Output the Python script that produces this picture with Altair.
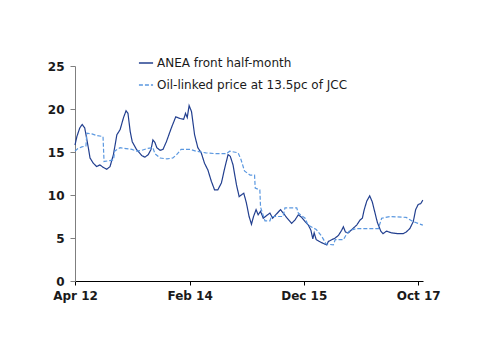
import altair as alt
import pandas as pd

series_names = ["ANEA front half-month", "Oil-linked price at 13.5pc of JCC"]

anea_dates = [
    "2012-04-01", "2012-04-12", "2012-04-29", "2012-05-13", "2012-05-28", "2012-06-18",
    "2012-06-28", "2012-07-17", "2012-08-06", "2012-08-25", "2012-09-14", "2012-10-04",
    "2012-10-23", "2012-11-12", "2012-12-02", "2012-12-21", "2013-01-10", "2013-01-25",
    "2013-02-05", "2013-02-18", "2013-03-02", "2013-03-27", "2013-04-26", "2013-05-15",
    "2013-06-04", "2013-06-20", "2013-07-01", "2013-07-13", "2013-07-24", "2013-08-12",
    "2013-08-29", "2013-09-18", "2013-10-17", "2013-11-12", "2013-12-05", "2013-12-28",
    "2014-01-08", "2014-01-18", "2014-01-29", "2014-02-12", "2014-03-02", "2014-03-21",
    "2014-04-10", "2014-04-29", "2014-05-19", "2014-06-08", "2014-06-27", "2014-07-16",
    "2014-08-06", "2014-08-25", "2014-09-14", "2014-09-27", "2014-10-13", "2014-11-02",
    "2014-11-18", "2014-11-30", "2014-12-15", "2014-12-30", "2015-01-15", "2015-01-29",
    "2015-02-10", "2015-02-25", "2015-03-09", "2015-03-23", "2015-04-08", "2015-04-27",
    "2015-05-17", "2015-06-02", "2015-06-25", "2015-07-18", "2015-08-03", "2015-08-26",
    "2015-09-21", "2015-10-11", "2015-10-30", "2015-11-19", "2015-12-09", "2015-12-28",
    "2016-01-12", "2016-01-23", "2016-01-31", "2016-02-12", "2016-03-01", "2016-03-21",
    "2016-04-14", "2016-04-23", "2016-05-13", "2016-06-02", "2016-06-21", "2016-07-10",
    "2016-07-20", "2016-08-01", "2016-08-19", "2016-09-08", "2016-10-06", "2016-10-26",
    "2016-11-08", "2016-11-19", "2016-12-04", "2016-12-21", "2017-01-05", "2017-01-20",
    "2017-02-04", "2017-02-24", "2017-03-09", "2017-03-29", "2017-04-28", "2017-06-06",
    "2017-07-04", "2017-07-23", "2017-08-13", "2017-09-02", "2017-09-16", "2017-10-01",
    "2017-10-16", "2017-10-28",
]
anea_values = [
    15.8, 16.8, 17.8, 18.2, 17.8, 15.5,
    14.3, 13.7, 13.3, 13.5, 13.2, 13.0,
    13.3, 14.7, 17.0, 17.6, 19.0, 19.8,
    19.5, 17.4, 16.2, 15.3, 14.6, 14.4,
    14.7, 15.3, 16.4, 16.1, 15.5, 15.2,
    15.3, 16.2, 17.8, 19.1, 18.9, 18.8,
    19.5, 19.0, 20.4, 19.7, 17.0, 15.5,
    14.9, 13.7, 12.9, 11.6, 10.6, 10.6,
    11.4, 13.1, 14.7, 14.5, 13.5, 11.2,
    9.8, 10.0, 10.2, 9.1, 7.5, 6.6,
    7.5, 8.3, 7.7, 8.1, 7.3, 7.6,
    7.9, 7.3, 7.8, 8.3, 7.9, 7.3,
    6.7, 7.1, 7.7, 7.4, 6.9, 6.5,
    5.9, 4.9, 5.6, 4.8, 4.6, 4.4,
    4.2, 4.6, 4.8, 5.0, 5.3, 5.9,
    6.3, 5.7, 5.6, 6.0, 6.5, 7.1,
    7.3, 8.3, 9.3, 9.9, 9.2, 8.0,
    6.8, 5.8, 5.5, 5.8, 5.6, 5.5,
    5.5, 5.7, 6.1, 6.9, 8.3, 8.9,
    9.0, 9.4,
]

oil_dates = [
    "2012-04-01", "2012-04-18", "2012-05-11", "2012-06-04", "2012-06-10", "2012-07-09",
    "2012-08-08", "2012-09-12", "2012-09-18", "2012-10-23", "2012-11-13", "2012-11-19",
    "2012-12-21", "2013-01-25", "2013-02-28", "2013-03-29", "2013-04-28", "2013-05-27",
    "2013-07-01", "2013-07-13", "2013-08-12", "2013-09-21", "2013-10-26", "2013-11-17",
    "2013-12-13", "2014-02-05", "2014-03-09", "2014-05-07", "2014-07-05", "2014-09-03",
    "2014-09-24", "2014-11-12", "2014-11-29", "2014-12-19", "2015-01-21", "2015-02-16",
    "2015-02-20", "2015-03-19", "2015-03-23", "2015-04-18", "2015-05-17", "2015-05-26",
    "2015-08-02", "2015-08-13", "2015-10-21", "2015-10-30", "2015-12-09", "2015-12-26",
    "2016-02-12", "2016-03-15", "2016-04-10", "2016-05-22", "2016-06-02", "2016-07-20",
    "2016-08-09", "2016-08-28", "2016-10-07", "2017-02-10", "2017-03-01", "2017-04-19",
    "2017-07-22", "2017-09-02", "2017-10-28",
]
oil_values = [
    15.1, 15.4, 15.6, 15.7, 17.2, 17.1,
    16.9, 16.8, 13.9, 14.0, 14.1, 15.1,
    15.5, 15.4, 15.3, 15.1, 15.2, 15.4,
    15.5, 14.8, 14.3, 14.2, 14.3, 14.7,
    15.3, 15.3, 15.1, 14.9, 14.8, 14.8,
    15.1, 14.9, 14.1, 12.8, 12.3, 12.3,
    10.8, 10.6, 8.6, 7.0, 7.0, 7.5,
    7.5, 8.5, 8.5, 7.9, 7.3, 6.5,
    6.0, 5.2, 4.3, 4.2, 4.8, 4.8,
    5.5, 5.9, 6.1, 6.1, 7.3, 7.5,
    7.4, 6.9, 6.5,
]

y_ticks = [0, 5, 10, 15, 20, 25]
x_tick_dates = [(2012, 4), (2014, 2), (2015, 12), (2017, 10)]

df = pd.concat([
    pd.DataFrame({"date": anea_dates, "value": anea_values, "series": series_names[0]}),
    pd.DataFrame({"date": oil_dates, "value": oil_values, "series": series_names[1]}),
])

x_values = [alt.DateTime(year=y, month=m, date=1, utc=True) for y, m in x_tick_dates]

legend = alt.Legend(
    title=None, orient="none", legendX=63, legendY=-11,
    symbolType="stroke", symbolSize=200, symbolStrokeWidth=1.3,
    labelFont="DejaVu Sans", labelFontSize=12, labelColor="#1a1a1a",
    labelLimit=0, rowPadding=8, labelOffset=3, padding=0,
)

chart = alt.Chart(df).mark_line(strokeWidth=1.2).encode(
    x=alt.X(
        "date:T",
        scale=alt.Scale(
            type="utc",
            domain=[alt.DateTime(year=2012, month=4, date=1, utc=True),
                    alt.DateTime(year=2017, month=10, date=29, utc=True)],
        ),
        axis=alt.Axis(
            values=x_values, format="%b %y", title=None, grid=False,
            domainColor="#000000", tickColor="#000000", tickSize=4,
            labelFont="DejaVu Sans", labelFontWeight="bold", labelFontSize=12,
            labelColor="#1a1a1a", labelPadding=5, labelFlush=False,
        ),
    ),
    y=alt.Y(
        "value:Q",
        scale=alt.Scale(domain=[0, 25], nice=False),
        axis=alt.Axis(
            values=y_ticks, title=None, grid=False,
            domainColor="#7f7f7f", tickColor="#7f7f7f", tickSize=5,
            labelFont="DejaVu Sans", labelFontWeight="bold", labelFontSize=12,
            labelColor="#1a1a1a", labelPadding=6,
        ),
    ),
    color=alt.Color(
        "series:N",
        scale=alt.Scale(domain=series_names, range=["#223f8f", "#5b98e0"]),
        legend=legend,
    ),
    strokeDash=alt.StrokeDash(
        "series:N",
        scale=alt.Scale(domain=series_names, range=[[1, 0], [4, 2]]),
        legend=legend,
    ),
).properties(
    width=348, height=215,
    background="white",
    autosize=alt.AutoSizeParams(type="none"),
    padding={"left": 75, "top": 66, "right": 77, "bottom": 73},
).configure_view(strokeWidth=0, stroke="transparent")

chart.save("out.html", embed_options={"renderer": "svg", "actions": False})
